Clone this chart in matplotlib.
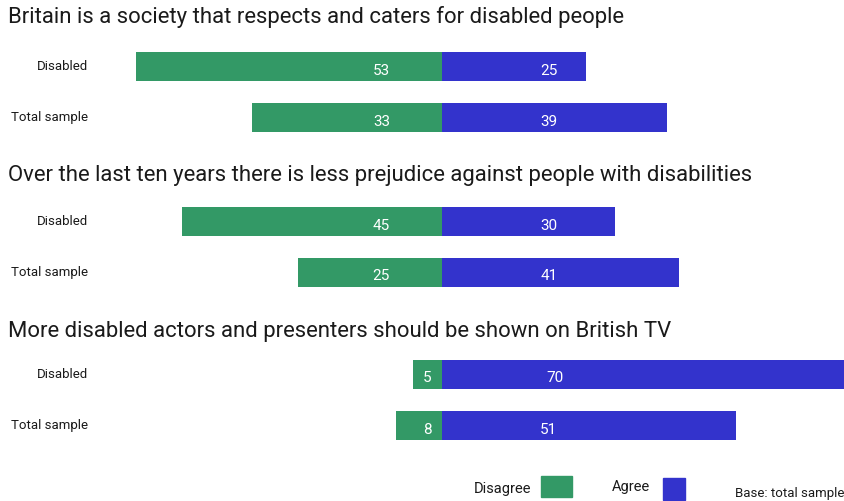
import matplotlib.pyplot as plt
from matplotlib.patches import Rectangle

plt.rcParams['font.family'] = ['Roboto', 'DejaVu Sans']

# Survey results (% of respondents)
questions = [
    "Britain is a society that respects and caters for disabled people",
    "Over the last ten years there is less prejudice against people with disabilities",
    "More disabled actors and presenters should be shown on British TV",
]
groups = ["Disabled", "Total sample"]
disagree = [[53, 33], [45, 25], [5, 8]]
agree = [[25, 39], [30, 41], [70, 51]]

green = '#339966'
blue = '#3333cc'

W, H = 845, 501
center = 442
scale = 5.77  # pixels per percentage point

fig = plt.figure(figsize=(W / 100, H / 100), dpi=100)
ax = fig.add_axes([0, 0, 1, 1])
ax.set_xlim(-center / scale, (W - center) / scale)
ax.set_ylim(H, 0)
ax.axis('off')

title_y = [17, 175, 332]
bar_y = [[66.5, 117.5], [221.5, 272.5], [374.5, 425.5]]
bar_h = 29

for q, title in enumerate(questions):
    ax.text(-center / scale + 8 / scale, title_y[q], title, fontsize=15.9,
            va='center', ha='left', color='#1a1a1a')
    for g, name in enumerate(groups):
        y = bar_y[q][g]
        d = disagree[q][g]
        a = agree[q][g]
        ax.barh(y, -d, height=bar_h, left=0, color=green)
        ax.barh(y, a, height=bar_h, left=0, color=blue)
        ax.text(-center / scale + 88 / scale, y, name, fontsize=9.5,
                ha='right', va='center', color='#1a1a1a')
        dx = -10.5 if d >= 10 else -2.6
        ax.text(dx, y + 4, str(d), fontsize=11, ha='center', va='center',
                color='white')
        ax.text(18.5 if a < 60 else 19.5, y + 4, str(a), fontsize=11,
                ha='center', va='center', color='white')

# legend
px = lambda x: (x - center) / scale
ax.text(px(503), 489, "Disagree", fontsize=10.5, ha='center', va='center',
        color='#1a1a1a')
ax.add_patch(Rectangle((px(541), 476), 31 / scale, 21, color=green))
ax.text(px(631), 487, "Agree", fontsize=10.5, ha='center', va='center',
        color='#1a1a1a')
ax.add_patch(Rectangle((px(663), 478), 22 / scale, 22, color=blue))
ax.text(px(844), 494, "Base: total sample", fontsize=9.5, ha='right',
        va='center', color='#1a1a1a')

fig.savefig('out.png', dpi=100)
